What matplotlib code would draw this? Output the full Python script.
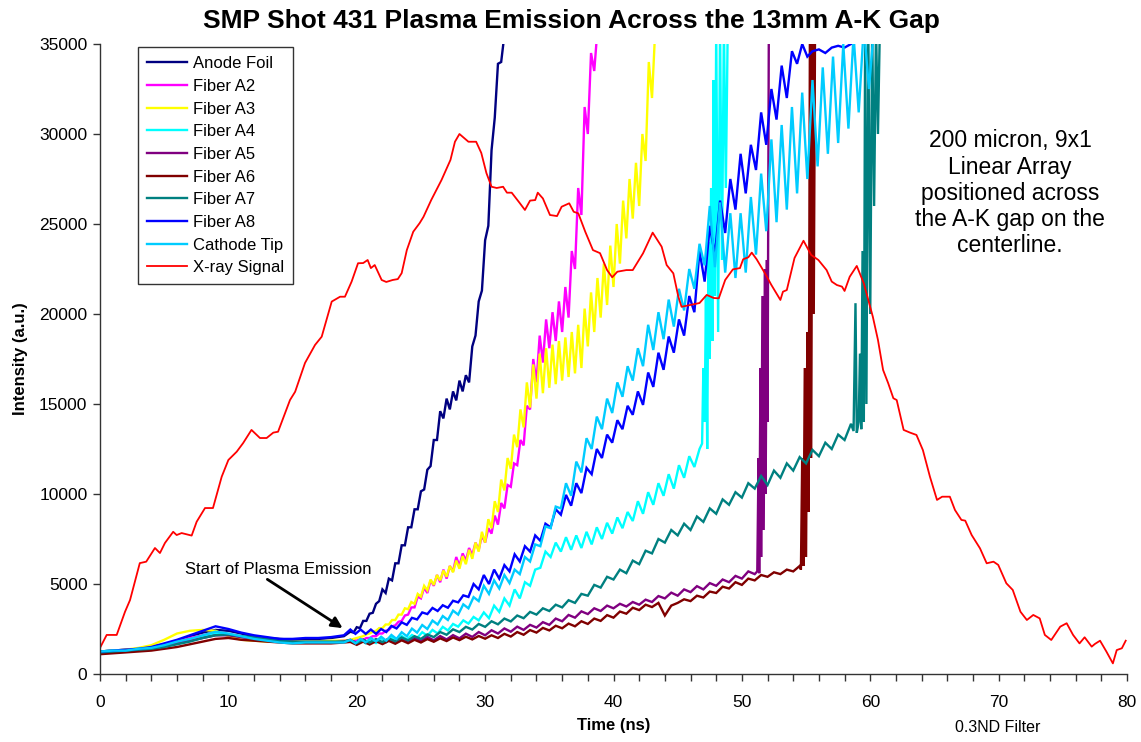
import numpy as np
import matplotlib
matplotlib.use("Agg")
import matplotlib.pyplot as plt
from matplotlib.ticker import MultipleLocator

plt.rcParams['font.family'] = ['Liberation Sans', 'DejaVu Sans']

# ---------------- data ----------------
# common early segment, 0..19 ns at 1 ns steps
t_early = np.arange(0, 20, 1.0)

anode_early = [1250, 1300, 1350, 1400, 1500, 1650, 1850, 2100, 2300, 2450,
               2400, 2250, 2100, 2000, 1950, 1900, 1950, 1950, 2000, 2100]
a2_early = [1200, 1250, 1300, 1400, 1500, 1650, 1800, 2000, 2150, 2300,
            2200, 2050, 1950, 1850, 1800, 1800, 1800, 1800, 1800, 1850]
a3_early = [1250, 1300, 1350, 1450, 1600, 1900, 2250, 2400, 2450, 2400,
            2100, 1900, 1850, 1800, 1800, 1800, 1800, 1800, 1850, 1850]
a4_early = [1250, 1300, 1300, 1400, 1450, 1600, 1750, 1900, 2100, 2250,
            2200, 2050, 1950, 1850, 1800, 1750, 1750, 1750, 1750, 1800]
a5_early = [1200, 1250, 1300, 1350, 1450, 1550, 1700, 1850, 2000, 2150,
            2150, 2050, 1950, 1850, 1800, 1800, 1750, 1750, 1750, 1800]
a6_early = [1100, 1150, 1200, 1250, 1300, 1400, 1500, 1650, 1800, 1950,
            2000, 1900, 1850, 1800, 1750, 1700, 1700, 1700, 1700, 1750]
a7_early = [1200, 1250, 1300, 1350, 1400, 1500, 1650, 1800, 2000, 2150,
            2200, 2100, 2050, 1950, 1850, 1800, 1800, 1800, 1800, 1800]
a8_early = [1250, 1300, 1350, 1400, 1500, 1700, 1900, 2150, 2400, 2650,
            2500, 2300, 2150, 2050, 1950, 1950, 2000, 2000, 2050, 2150]
cath_early = [1250, 1300, 1300, 1400, 1450, 1600, 1800, 1950, 2150, 2350,
              2250, 2100, 1950, 1850, 1750, 1700, 1750, 1750, 1750, 1750]

# late segments: start time, sample step, values
anode_start, anode_step = 19.5, 0.25
anode_late = [2350, 2300, 2600, 2550, 2950, 2950, 3350, 3400, 3900, 4050,
              4700, 4500, 5300, 5200, 6150, 6150, 7150, 7150, 8150, 8150,
              9150, 9150, 10150, 10250, 11350, 11550, 13000, 13000, 14600, 14200,
              15300, 14700, 15700, 15200, 16300, 15700, 16600, 16200, 18200, 18800,
              20700, 21300, 24100, 24900, 29100, 30900, 33900, 34000, 35500]

a2_start, a2_step = 19.5, 0.25
a2_late = [1850, 1900, 1850, 1950, 1900, 2000, 2000, 2100, 2100, 2250,
           2250, 2400, 2450, 2650, 2700, 2900, 2950, 3250, 3300, 3700,
           3700, 4300, 4200, 4800, 4500, 5200, 4900, 5500, 5100, 5800,
           5300, 6000, 5700, 6500, 6000, 6700, 6300, 7000, 6600, 7300,
           6900, 7700, 7300, 8100, 7800, 8800, 8300, 9500, 9200, 10500,
           10400, 11700, 11600, 13000, 12700, 14900, 14700, 17500, 16200, 18800,
           17300, 19700, 18100, 20100, 18500, 20700, 19000, 21500, 19800, 23500,
           22500, 27000, 25500, 31500, 30000, 34500, 33500, 35800]

a3_start, a3_step = 19.5, 0.25
a3_late = [1900, 1950, 2000, 2050, 2100, 2200, 2250, 2350, 2400, 2550,
           2550, 2750, 2750, 3000, 3000, 3300, 3300, 3650, 3600, 4000,
           3900, 4450, 4300, 4900, 4650, 5250, 4950, 5500, 5200, 5750,
           5400, 6000, 5650, 6300, 5850, 6550, 6100, 6900, 6400, 7300,
           6800, 7900, 7300, 8600, 8100, 9600, 9000, 10800, 10200, 12000,
           11400, 13300, 12600, 14700, 13700, 16200, 14800, 17200, 15300, 17800,
           15600, 18100, 15900, 18300, 16100, 18500, 16300, 18700, 16500, 19000,
           16700, 19400, 17000, 20300, 18200, 21200, 19000, 22000, 19800, 22800,
           20500, 23800, 21500, 25000, 22800, 26300, 24200, 27500, 25300, 28400,
           26000, 30000, 28500, 34000, 32000, 35800]

a4_start, a4_step = 19.5, 0.4
a4_late = [1880, 1680, 1900, 1700, 1920, 1720, 1970, 1770, 2050, 1850,
           2120, 1920, 2170, 2000, 2320, 2130, 2450, 2250, 2620, 2420,
           2780, 2630, 2980, 2800, 3170, 2980, 3420, 3100, 3800, 3450,
           4200, 3800, 4700, 4200, 5100, 4900, 5800, 5900, 6800, 6500,
           7300, 6800, 7600, 6900, 7700, 7000, 7900, 7200, 8150, 7500,
           8400, 7800, 8700, 8100, 9000, 8500, 9600, 8900, 10100, 9400,
           10600, 9900, 11100, 10300, 11600, 10900, 12100, 11500, 12500]
a4_tail_t = [46.9, 47.0, 47.1, 47.2, 47.3, 47.4, 47.5, 47.6, 47.7, 47.8,
             47.9, 48.0, 48.15, 48.3, 48.45, 48.6, 48.75, 48.9]
a4_tail_v = [12800, 17000, 14000, 21000, 12500, 24000, 17500, 27000, 18500, 33000,
             21000, 36000, 19000, 36000, 23000, 36000, 27000, 36000]

a5_start, a5_step = 19.5, 0.5
a5_late = [1900, 1700, 1900, 1720, 1930, 1740, 1960, 1770, 1990, 1800,
           2020, 1830, 2060, 1870, 2110, 1920, 2160, 1980, 2240, 2060,
           2330, 2150, 2430, 2250, 2530, 2350, 2630, 2450, 2730, 2580,
           2880, 2730, 3080, 2930, 3280, 3130, 3480, 3330, 3650, 3500,
           3800, 3650, 3900, 3750, 4000, 3850, 4130, 4000, 4330, 4200,
           4520, 4350, 4700, 4550, 4880, 4700, 5050, 4900, 5250, 5100,
           5450, 5300, 5700, 5550]
a5_tail_t = [51.2, 51.3, 51.35, 51.45, 51.5, 51.6, 51.7, 51.8, 51.85, 51.95, 52.0, 52.1]
a5_tail_v = [5700, 12000, 5600, 17000, 6500, 21000, 8000, 22500, 10000, 23000, 14000, 36000]

a6_start, a6_step = 19.5, 0.5
a6_late = [1780, 1620, 1800, 1640, 1820, 1660, 1840, 1680, 1870, 1710,
           1900, 1750, 1940, 1790, 1980, 1830, 2030, 1880, 2070, 1920,
           2110, 1960, 2150, 2000, 2230, 2080, 2330, 2180, 2440, 2300,
           2560, 2420, 2680, 2540, 2800, 2650, 2930, 2780, 3080, 2950,
           3270, 3130, 3470, 3350, 3680, 3550, 3850, 3720, 3950, 3250,
           3800, 3950, 4150, 4050, 4350, 4250, 4580, 4500, 4850, 4750,
           5100, 4950, 5300, 5200, 5500, 5400, 5650, 5550, 5800, 5700, 6000]
a6_tail_t = [54.6, 54.7, 54.8, 54.9, 55.0, 55.1, 55.2, 55.3, 55.4, 55.5, 55.6, 55.7]
a6_tail_v = [5800, 12000, 6000, 17000, 6500, 19000, 9000, 36000, 12000, 36000, 20000, 36000]

a7_start, a7_step = 19.5, 0.5
a7_late = [1880, 1720, 1900, 1740, 1930, 1770, 1970, 1820, 2030, 1870,
           2100, 1950, 2200, 2050, 2330, 2180, 2480, 2330, 2620, 2470,
           2780, 2620, 2930, 2760, 3080, 2920, 3250, 3100, 3450, 3300,
           3650, 3500, 3850, 3700, 4100, 3950, 4450, 4350, 4950, 4800,
           5400, 5250, 5800, 5600, 6300, 6100, 6850, 6700, 7500, 7300,
           8000, 7700, 8350, 8000, 8750, 8450, 9200, 8900, 9700, 9400,
           10100, 9800, 10600, 10300, 11000, 10500, 11300, 10900, 11700, 11300,
           12050, 11700, 12450, 12100, 12850, 12500, 13300, 13000, 13900]
a7_tail_t = [58.7, 58.85, 58.95, 59.1, 59.2, 59.3, 59.4, 59.5, 59.6, 59.7,
             59.85, 60.0, 60.15, 60.3, 60.45, 60.6, 60.75]
a7_tail_v = [13500, 20600, 13400, 14000, 17800, 13600, 23500, 14000, 35500, 15000,
             36000, 20000, 36000, 26000, 36000, 30000, 36000]

a8_start, a8_step = 19.5, 0.4
a8_late = [2470, 2230, 2470, 2230, 2470, 2230, 2500, 2330, 2670, 2530,
           2870, 2730, 3120, 3030, 3420, 3330, 3670, 3500, 3820, 3680,
           4070, 3980, 4370, 4280, 5000, 4700, 5500, 5000, 5800, 5300,
           6050, 5700, 6650, 6250, 7100, 6800, 7700, 7400, 8350, 8150,
           9150, 8850, 9950, 9350, 10600, 10050, 11450, 11100, 12500, 12000,
           13300, 12850, 14100, 13600, 14900, 14400, 15700, 14950, 16750, 15950,
           17850, 16900, 18750, 17850, 19700, 18800, 21000, 20100, 23500, 21800,
           24900, 23300, 26300, 24500, 27500, 25800, 28900, 26700, 29400, 28000,
           31200, 29400, 32500, 30800, 33800, 32000, 34600, 33900, 35000, 34300]
a8_tail_t = [55.5, 56.0, 56.5, 57.0, 57.5, 58.0, 58.5, 59.0]
a8_tail_v = [34600, 34700, 34500, 34800, 34900, 34800, 35000, 35100]

cath_start, cath_step = 19.5, 0.4
cath_late = [1900, 1700, 1950, 1750, 2000, 1800, 2070, 1850, 2170, 1950,
             2320, 2100, 2520, 2300, 2720, 2500, 2970, 2750, 3220, 3000,
             3520, 3300, 3870, 3650, 4270, 4050, 4900, 4450, 5200, 4750,
             5500, 5050, 5800, 5550, 6500, 6250, 7200, 7100, 8200, 8100,
             9300, 9200, 10600, 9900, 11800, 11200, 13100, 12500, 14300, 13600,
             15300, 14500, 16200, 15400, 17100, 16300, 18100, 17100, 19400, 18000,
             20100, 18600, 20800, 19300, 21400, 20200, 22500, 21400, 23900, 22700,
             26000, 22600, 26200, 22300, 25600, 22000, 25600, 22300, 26500, 23300,
             27800, 24600, 29700, 25100, 30500, 25800, 31500, 26700, 32300, 27500,
             33000, 28200, 33700, 28900, 34300, 29500, 35000, 30300, 35500, 31200,
             36000, 32500, 36000]

# X-ray signal
xray_t = [0.0, 0.52, 1.3, 1.95, 2.34, 3.1, 3.6, 4.28, 4.67, 5.06, 5.7, 5.97, 6.36,
          7.14, 7.53, 8.18, 8.8, 9.48, 10.0, 10.65, 11.15, 11.8, 12.46, 12.98, 13.5,
          13.87, 14.8, 15.2, 15.97, 16.75, 17.27, 18.05, 18.7, 19.08, 19.6, 20.1,
          20.5, 20.85, 21.1, 21.4, 21.94, 22.3, 22.8, 23.2, 23.5, 23.9, 24.4, 24.9,
          25.2, 25.8, 26.6, 27.3, 27.65, 28.0, 28.7, 29.3, 29.7, 30.1, 30.5, 30.9,
          31.4, 31.7, 32.07, 32.7, 33.1, 33.5, 33.9, 34.1, 34.5, 35.05, 35.6, 35.96,
          36.55, 36.9, 37.26, 37.8, 38.4, 38.95, 39.5, 39.9, 40.3, 41.0, 41.5, 42.3,
          43.05, 43.75, 44.14, 44.66, 45.05, 45.3, 45.96, 46.7, 47.26, 47.8, 48.2,
          48.7, 49.3, 49.85, 50.1, 50.5, 50.77, 51.15, 51.8, 52.3, 53.0, 53.2, 53.5,
          54.1, 54.8, 55.4, 55.96, 56.6, 57.0, 57.4, 57.8, 58.0, 58.4, 58.95, 59.5,
          60.2, 60.6, 61.0, 61.4, 61.8, 62.06, 62.6, 63.1, 63.6, 64.1, 64.65, 65.2,
          65.6, 66.2, 66.6, 67.1, 67.4, 67.9, 68.55, 69.07, 69.6, 69.97, 70.6, 71.1,
          71.7, 72.2, 72.7, 73.2, 73.6, 74.1, 74.8, 75.3, 75.8, 76.3, 76.7, 77.25,
          77.5, 77.9, 78.4, 78.9, 79.2, 79.6, 79.9]
xray_v = [1450, 2170, 2170, 3460, 4110, 6160, 6240, 7000, 6720, 7280, 7900, 7720, 7830,
          7690, 8460, 9220, 9220, 10960, 11890, 12350, 12830, 13560, 13110, 13110, 13410,
          13460, 15220, 15680, 17280, 18280, 18740, 20690, 20960, 20960, 21800, 22820,
          22830, 23000, 22550, 22720, 21890, 21780, 21890, 21940, 22270, 23550, 24570, 25050,
          25400, 26330, 27440, 28560, 29570, 30000, 29570, 29570, 28950, 27830, 27070, 27000,
          27070, 26740, 26740, 26160, 25780, 26300, 26330, 26740, 26420, 25500, 25440, 25960,
          26150, 25680, 25590, 24570, 23550, 23380, 22440, 22040, 22350, 22440, 22440, 23370,
          24520, 23740, 22720, 22260, 20960, 20400, 20500, 20610, 21060, 20890, 20870,
          21890, 22480, 22550, 23040, 23150, 23410, 23040, 22260, 21610, 20780, 21240, 21330,
          23110, 24070, 23280, 23000, 22440, 21800, 21610, 21520, 21280, 22070, 22670, 21700,
          19850, 18560, 16890, 16150, 15320, 15220, 13560, 13410, 13280, 12440, 10960, 9670,
          9850, 9850, 9110, 8560, 8520, 7720, 6980, 6150, 6240, 6060, 5040, 4670,
          3460, 3000, 3280, 3090, 2170, 1890, 2630, 2820, 2170, 1700, 2040, 1520,
          1670, 1850, 1240, 590, 1330, 1430, 1850]

series_names = ["Anode Foil", "Fiber A2", "Fiber A3", "Fiber A4", "Fiber A5",
                "Fiber A6", "Fiber A7", "Fiber A8", "Cathode Tip", "X-ray Signal"]
series_colors = ["#000080", "#FF00FF", "#FFFF00", "#00FFFF", "#800080",
                 "#800000", "#008080", "#0000FF", "#00CCFF", "#FF0000"]

x_ticks = [0, 10, 20, 30, 40, 50, 60, 70, 80]
y_ticks = [0, 5000, 10000, 15000, 20000, 25000, 30000, 35000]


def assemble(early, start, step, late, tail_t=(), tail_v=()):
    t_late = start + step * np.arange(len(late))
    t = np.concatenate([t_early, t_late, np.asarray(tail_t, float)])
    v = np.concatenate([np.asarray(early, float), np.asarray(late, float),
                        np.asarray(tail_v, float)])
    return t, v


fibers = [
    assemble(anode_early, anode_start, anode_step, anode_late),
    assemble(a2_early, a2_start, a2_step, a2_late),
    assemble(a3_early, a3_start, a3_step, a3_late),
    assemble(a4_early, a4_start, a4_step, a4_late, a4_tail_t, a4_tail_v),
    assemble(a5_early, a5_start, a5_step, a5_late, a5_tail_t, a5_tail_v),
    assemble(a6_early, a6_start, a6_step, a6_late, a6_tail_t, a6_tail_v),
    assemble(a7_early, a7_start, a7_step, a7_late, a7_tail_t, a7_tail_v),
    assemble(a8_early, a8_start, a8_step, a8_late, a8_tail_t, a8_tail_v),
    assemble(cath_early, cath_start, cath_step, cath_late),
]

# ---------------- figure ----------------
fig = plt.figure(figsize=(11.41, 7.42), dpi=100)
ax = fig.add_axes([100 / 1141, 1 - 674 / 742, 1027 / 1141, 630 / 742])

for (t, v), name, col in zip(fibers, series_names[:-1], series_colors[:-1]):
    ax.plot(t, v, color=col, lw=1.7, label=name, solid_joinstyle='miter')
ax.plot(xray_t, xray_v, color=series_colors[-1], lw=1.3, label=series_names[-1])

ax.set_xlim(0, 80)
ax.set_ylim(0, 35000)
ax.set_xticks(x_ticks)
ax.set_yticks(y_ticks)
ax.xaxis.set_minor_locator(MultipleLocator(2))
ax.tick_params(axis='x', which='both', direction='out', length=5, width=1,
               color='#333333', pad=10, labelsize=12.5)
ax.tick_params(axis='y', which='both', direction='out', length=5, width=1,
               color='#333333', pad=4, labelsize=12.5)
for s in ['top', 'right']:
    ax.spines[s].set_visible(False)
for s in ['left', 'bottom']:
    ax.spines[s].set_color('#333333')
    ax.spines[s].set_linewidth(1.0)

ax.set_xlabel("Time (ns)", fontsize=12, fontweight='bold', labelpad=6)
ax.set_ylabel("Intensity (a.u.)", fontsize=12, fontweight='bold', labelpad=8)
fig.text(0.5 * (198 + 945) / 1141, 1 - 21 / 742,
         "SMP Shot 431 Plasma Emission Across the 13mm A-K Gap",
         ha='center', va='center', fontsize=19, fontweight='bold')

leg = ax.legend(loc='upper left', bbox_to_anchor=(0.037, 0.995), borderaxespad=0,
                fontsize=12, frameon=True, fancybox=False, edgecolor='black',
                handlelength=2.4, handletextpad=0.35, labelspacing=0.46,
                borderpad=0.55)
leg.get_frame().set_linewidth(1.0)

ax.text(70.9, 26700, "200 micron, 9x1\nLinear Array\npositioned across\nthe A-K gap on the\ncenterline.",
        ha='center', va='center', fontsize=16.5, linespacing=1.18)

ax.annotate("Start of Plasma Emission", xy=(18.9, 2550), xytext=(6.6, 5830),
            fontsize=12, ha='left', va='center',
            arrowprops=dict(arrowstyle='-|>', color='black', lw=2,
                            mutation_scale=16, shrinkA=0, shrinkB=0,
                            relpos=(0.42, 0.0)))

fig.text(955 / 1141, 1 - 728 / 742, "0.3ND Filter", ha='left', va='center', fontsize=11.5)

fig.savefig("out.png", dpi=100)
